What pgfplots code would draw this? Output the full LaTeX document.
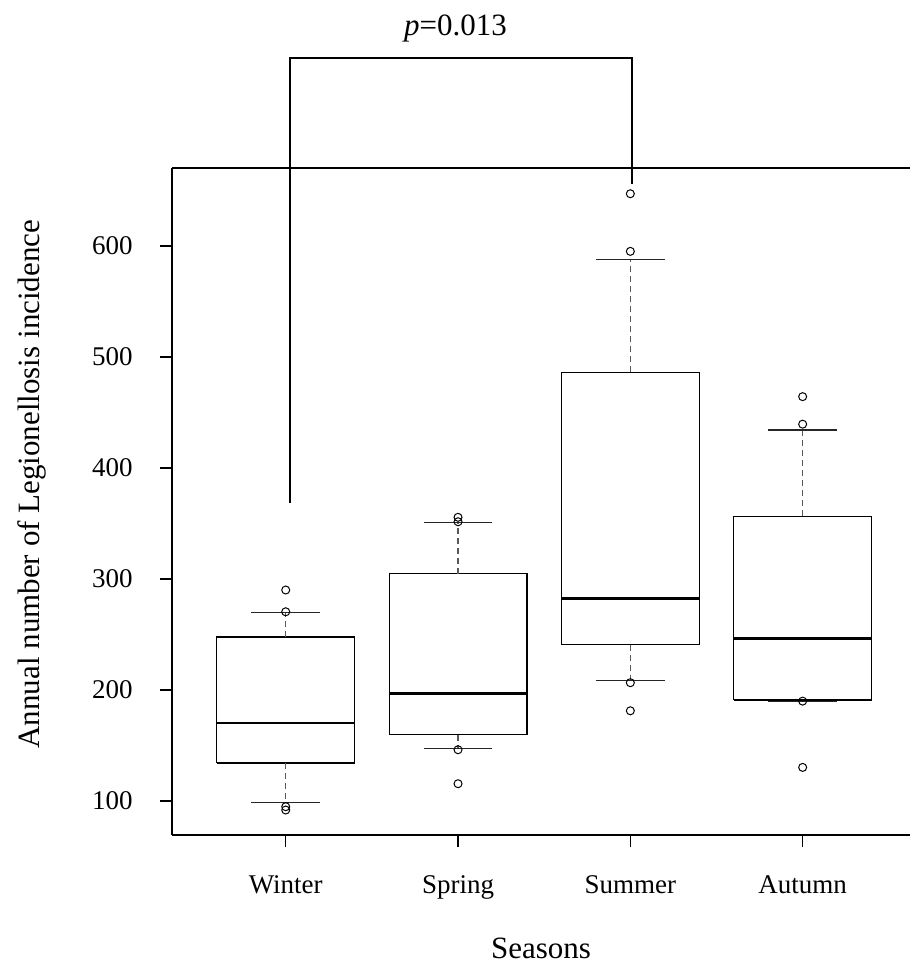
\documentclass[border=0pt]{standalone}
\usepackage{pgfplots}
\pgfplotsset{compat=1.18}
\usetikzlibrary{calc}
\usepackage{fontspec}
\setmainfont{Liberation Serif}
\begin{document}
\begin{tikzpicture}
\begin{axis}[
  scale only axis,
  width=369pt, height=333.5pt,
  xmin=0.34, xmax=4.623,
  ymin=69.4, ymax=670.3,
  axis x line*=bottom, axis y line*=left,
  axis line style={line width=0.7pt, -},
  xtick={1,2,3,4},
  xticklabels={Winter,Spring,Summer,Autumn},
  ytick={100,200,300,400,500,600},
  tick align=outside,
  major tick length=6pt,
  tick style={line width=0.6pt, black},
  /pgf/number format/assume math mode=true,
  ticklabel style={font=\fontsize{13.5}{16}\selectfont, inner sep=0pt},
  yticklabel style={xshift=-13.5pt},
  xticklabel style={yshift=-14pt},
  xlabel={Seasons},
  ylabel={Annual number of Legionellosis incidence},
  label style={font=\fontsize{15.5}{18}\selectfont, inner sep=0pt},
  xlabel style={at={(axis description cs:0.5,0)}, anchor=base, yshift=-61.5pt},
  ylabel style={at={(axis description cs:-0.1789,0.526)}, anchor=base},
  clip=false,
]
% ---- boxes (Q1..Q3) ----
\addplot[black, line width=0.6pt] coordinates {(0.6,134.2) (1.4,134.2) (1.4,247.7) (0.6,247.7) (0.6,134.2)};
\addplot[black, line width=0.6pt] coordinates {(1.6,159.7) (2.4,159.7) (2.4,304.8) (1.6,304.8) (1.6,159.7)};
\addplot[black, line width=0.6pt] coordinates {(2.6,240.9) (3.4,240.9) (3.4,486.2) (2.6,486.2) (2.6,240.9)};
\addplot[black, line width=0.6pt] coordinates {(3.6,191.0) (4.4,191.0) (4.4,356.6) (3.6,356.6) (3.6,191.0)};
% ---- medians ----
\addplot[black, line width=1.4pt] coordinates {(0.6,170.3) (1.4,170.3)};
\addplot[black, line width=1.4pt] coordinates {(1.6,197.0) (2.4,197.0)};
\addplot[black, line width=1.4pt] coordinates {(2.6,282.5) (3.4,282.5)};
\addplot[black, line width=1.4pt] coordinates {(3.6,246.1) (4.4,246.1)};
% ---- whiskers (dashed) ----
\addplot[black!65, line width=0.6pt, dash pattern=on 3pt off 2pt] coordinates {(1,134.2) (1,98.8)};
\addplot[black!65, line width=0.6pt, dash pattern=on 3pt off 2pt] coordinates {(1,247.7) (1,269.6)};
\addplot[black!65, line width=0.6pt, dash pattern=on 3pt off 2pt] coordinates {(2,159.7) (2,147.1)};
\addplot[black!65, line width=0.6pt, dash pattern=on 3pt off 2pt] coordinates {(2,304.8) (2,350.7)};
\addplot[black!65, line width=0.6pt, dash pattern=on 3pt off 2pt] coordinates {(3,240.9) (3,208.6)};
\addplot[black!65, line width=0.6pt, dash pattern=on 3pt off 2pt] coordinates {(3,486.2) (3,588.0)};
\addplot[black!65, line width=0.6pt, dash pattern=on 3pt off 2pt] coordinates {(4,356.6) (4,434.3)};
% ---- whisker caps ----
\addplot[black!85, line width=0.6pt] coordinates {(0.8,98.8) (1.2,98.8)};
\addplot[black!85, line width=0.6pt] coordinates {(0.8,269.6) (1.2,269.6)};
\addplot[black!85, line width=0.6pt] coordinates {(1.8,147.1) (2.2,147.1)};
\addplot[black!85, line width=0.6pt] coordinates {(1.8,350.7) (2.2,350.7)};
\addplot[black!85, line width=0.6pt] coordinates {(2.8,208.6) (3.2,208.6)};
\addplot[black!85, line width=0.6pt] coordinates {(2.8,588.0) (3.2,588.0)};
\addplot[black!85, line width=0.6pt] coordinates {(3.8,189.8) (4.2,189.8)};
\addplot[black!85, line width=0.6pt] coordinates {(3.8,434.3) (4.2,434.3)};
% ---- outliers ----
\addplot[only marks, mark=o, mark size=2pt, mark options={black, line width=0.5pt}] coordinates {
  (1,290.1) (1,270.5) (1,94.9) (1,91.9)
  (2,355.6) (2,351.6) (2,146.2) (2,115.6)
  (3,647.1) (3,595.2) (3,206.6) (3,181.3)
  (4,464.3) (4,439.5) (4,190.0) (4,130.3)
};
% top frame line
\draw[line width=0.7pt] (rel axis cs:0,1) -- (rel axis cs:1,1);
% significance bracket
\draw[line width=1pt] (axis cs:1.025,368.5) -- (axis cs:1.025,769.4) -- (axis cs:3.012,769.4) -- (axis cs:3.012,655.6);
\node[anchor=base, inner sep=0pt, font=\fontsize{15.5}{18}\selectfont] at (axis cs:1.985,790) {\textit{p}=0.013};
\coordinate (BL) at (rel axis cs:0,0);
\coordinate (TR) at (rel axis cs:1,1);
\end{axis}
\pgfresetboundingbox
\path[use as bounding box] ($(BL)+(-86pt,-66pt)$) rectangle ($(TR)+(0pt,84pt)$);
\end{tikzpicture}
\end{document}
